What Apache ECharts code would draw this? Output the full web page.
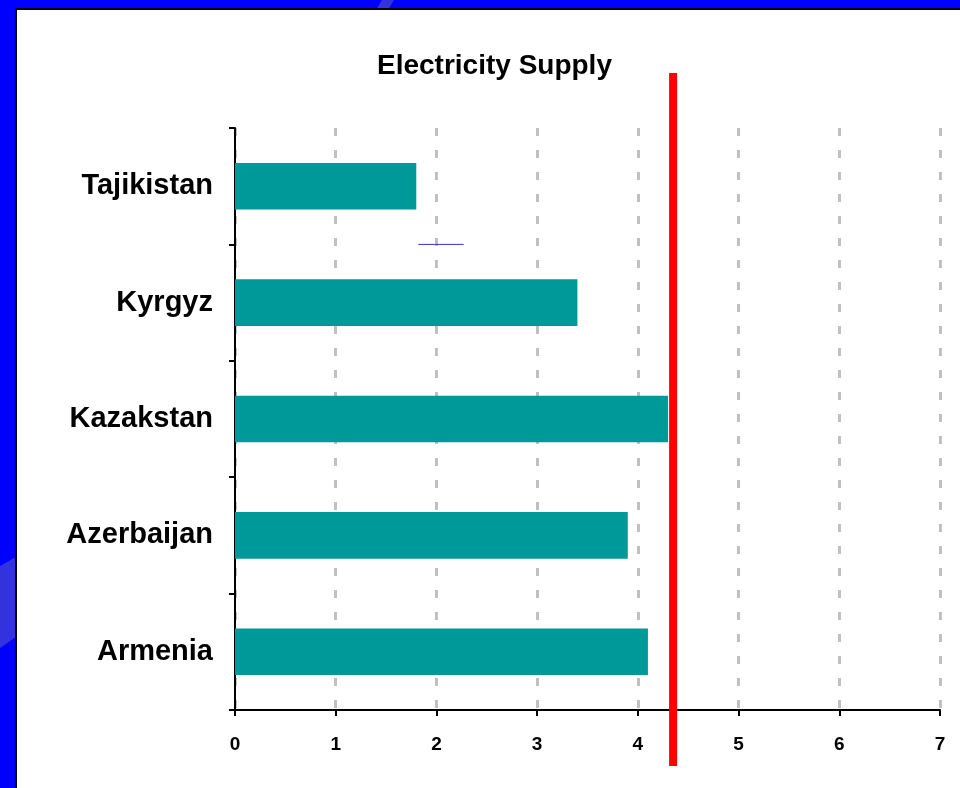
<!DOCTYPE html>
<html><head><meta charset="utf-8">
<script src="https://cdn.jsdelivr.net/npm/echarts@6/dist/echarts.min.js"></script>
<style>
html,body{margin:0;padding:0;width:960px;height:788px;overflow:hidden;background:#0000ff;}
.stripe{position:absolute;background:#3333dd;}
#panel{position:absolute;left:15px;top:8px;width:945px;height:780px;border-left:2px solid #000;border-top:2px solid #000;background:#fff;}
#chart{position:absolute;left:0;top:0;width:945px;height:780px;}
</style></head>
<body>
<div class="stripe" style="left:0;top:0;width:420px;height:10px;clip-path:polygon(382px 0,394px 0,388px 10px,376px 10px);"></div>
<div class="stripe" style="left:0;top:540px;width:16px;height:140px;clip-path:polygon(0 26px,16px 17px,16px 97px,0 108px);"></div>
<div id="panel"><div id="chart"></div></div>
<script>
const categories = ['Armenia', 'Azerbaijan', 'Kazakstan', 'Kyrgyz', 'Tajikistan'];
const supplyValues = [4.1, 3.9, 4.3, 3.4, 1.8];
const xTicks = [0, 1, 2, 3, 4, 5, 6, 7];
const thresholdValue = 4.35;
const stubValues = [1.82, 2.27];

const chart = echarts.init(document.getElementById('chart'));
const option = {
  animation: false,
  backgroundColor: '#ffffff',
  title: {
    text: 'Electricity Supply',
    left: 355, top: 37,
    textStyle: {fontFamily: 'Liberation Sans, Arial', fontWeight: 'bold', fontSize: 28, color: '#000'}
  },
  grid: {left: 218, right: 22, top: 118, bottom: 80, containLabel: false},
  xAxis: {
    type: 'value', min: xTicks[0], max: xTicks[xTicks.length - 1], interval: 1,
    axisLine: {show: true, lineStyle: {color: '#000', width: 2}},
    axisTick: {show: true, length: 6, lineStyle: {color: '#000', width: 2}},
    axisLabel: {color: '#000', fontFamily: 'Liberation Sans, Arial', fontWeight: 'bold', fontSize: 19, margin: 25},
    splitLine: {show: true, lineStyle: {color: '#c0c0c0', width: 3, type: [8, 14]}}
  },
  yAxis: {
    type: 'category', data: categories,
    axisLine: {show: true, lineStyle: {color: '#000', width: 2}},
    axisTick: {show: true, length: 6, lineStyle: {color: '#000', width: 2}},
    axisLabel: {color: '#000', fontFamily: 'Liberation Sans, Arial', fontWeight: 'bold', fontSize: 29, margin: 22, padding: [3, 0, 0, 0]},
    splitLine: {show: false}
  },
  series: [{
    type: 'bar', data: supplyValues, barWidth: '40%',
    itemStyle: {color: '#009999'}
  }]
};
chart.setOption(option);
const rx = chart.convertToPixel({xAxisIndex: 0}, thresholdValue);
const s0 = chart.convertToPixel({xAxisIndex: 0}, stubValues[0]);
const s1 = chart.convertToPixel({xAxisIndex: 0}, stubValues[1]);
const stubY = chart.convertToPixel({yAxisIndex: 0}, 3) - (chart.convertToPixel({yAxisIndex: 0}, 3) - chart.convertToPixel({yAxisIndex: 0}, 4)) / 2;
chart.setOption({
  graphic: [
    {type: 'line', z: 100, shape: {x1: rx, y1: 63, x2: rx, y2: 756}, style: {stroke: '#ff0000', lineWidth: 8}},
    {type: 'line', z: 100, shape: {x1: s0, y1: stubY, x2: s1, y2: stubY}, style: {stroke: '#3333cc', lineWidth: 1}}
  ]
});
</script>
</body></html>
